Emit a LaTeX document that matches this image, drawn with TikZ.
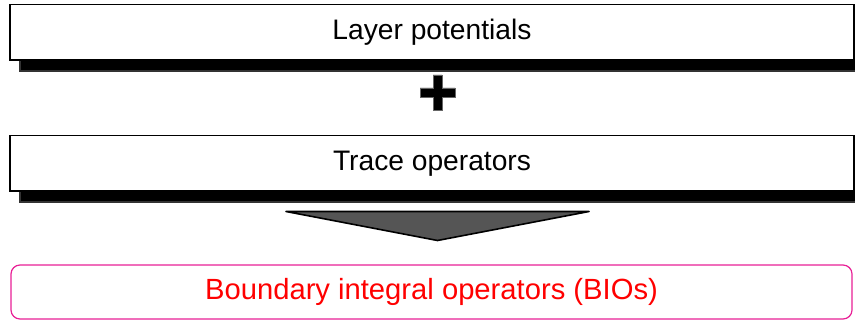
\documentclass[tikz,border=0pt]{standalone}
\usepackage{fontspec}
\setmainfont{Liberation Sans}
\usetikzlibrary{shadows}
\definecolor{bioborder}{RGB}{232,32,150}
\definecolor{arrowgray}{RGB}{85,85,85}
\tikzset{
  plainbox/.style={draw=black, fill=white, line width=0.7pt,
    minimum width=422pt, minimum height=27.7pt, inner sep=0pt,
    font=\fontsize{14.1}{16}\selectfont,
    copy shadow={shadow xshift=5pt, shadow yshift=-5.5pt, fill=black, draw=black!80}},
  biobox/.style={draw=bioborder, fill=white, line width=0.6pt, rounded corners=4.5pt,
    minimum width=420.5pt, minimum height=27pt, inner sep=0pt,
    text=red, font=\fontsize{14.6}{16}\selectfont},
  plusshape/.style={fill=black, draw=black!60, line width=0.3pt},
  funnel/.style={fill=arrowgray, draw=black, line width=0.8pt, line join=round}
}
\begin{document}
\begin{tikzpicture}[x=0.5pt, y=-0.5pt]
  \clip (0,0) rectangle (855,320);
  \node[plainbox] (layer) at (432,32.5) {Layer potentials};
  \node[plainbox] (trace) at (432,163.5) {Trace operators};
  \coordinate (pc) at (437.5,92.5);
  \filldraw[plusshape] ([shift={(-17.5,-4.5)}]pc) -- ([shift={(-4.5,-4.5)}]pc) -- ([shift={(-4.5,-17.5)}]pc)
    -- ([shift={(4.5,-17.5)}]pc) -- ([shift={(4.5,-4.5)}]pc) -- ([shift={(17.5,-4.5)}]pc)
    -- ([shift={(17.5,4.5)}]pc) -- ([shift={(4.5,4.5)}]pc) -- ([shift={(4.5,17.5)}]pc)
    -- ([shift={(-4.5,17.5)}]pc) -- ([shift={(-4.5,4.5)}]pc) -- ([shift={(-17.5,4.5)}]pc) -- cycle;
  \coordinate (fl) at (286,211.5);
  \coordinate (fr) at (589,211.5);
  \coordinate (ft) at (437.5,240.5);
  \filldraw[funnel] (fl) -- (fr) -- (ft) -- cycle;
  \node[biobox] (bio) at (431.5,292) {\raisebox{-1pt}{Boundary integral operators (BIOs)}};
\end{tikzpicture}
\end{document}
